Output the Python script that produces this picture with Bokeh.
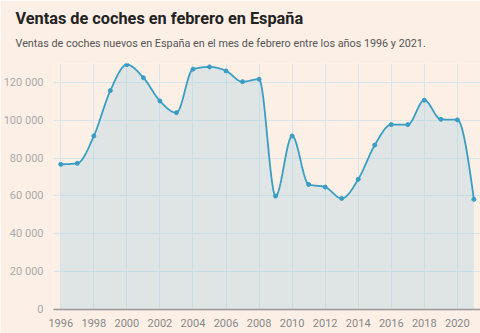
import numpy as np
from bokeh.plotting import figure
from bokeh.models import Title, FixedTicker, ColumnDataSource, Range1d
from bokeh.embed import file_html
from bokeh.resources import INLINE

years = list(range(1996, 2022))
ventas = [76700, 77250, 91700, 115700, 129400, 122500, 110200, 104000,
          127000, 128200, 126100, 120400, 121700, 59950, 91700, 66100,
          64700, 58700, 68800, 86900, 97700, 97700, 110600, 100500,
          100200, 58200]
y_ticks = [0, 20000, 40000, 60000, 80000, 100000, 120000]
y_tick_labels = ["0", "20 000", "40 000", "60 000", "80 000", "100 000", "120 000"]
x_ticks = list(range(1996, 2022, 2))

title_text = "Ventas de coches en febrero en España"
subtitle_text = "Ventas de coches nuevos en España en el mes de febrero entre los años 1996 y 2021."

BG = "#fcefe6"
LINE = "#3a9dc4"


def monotone_curve(x, y, n=24):
    x = np.asarray(x, float)
    y = np.asarray(y, float)
    h = np.diff(x)
    d = np.diff(y) / h
    m = np.zeros_like(y)
    for i in range(1, len(y) - 1):
        s0, s1 = d[i - 1], d[i]
        h0, h1 = h[i - 1], h[i]
        p = (s0 * h1 + s1 * h0) / (h0 + h1)
        m[i] = (np.sign(s0) + np.sign(s1)) * min(abs(s0), abs(s1), 0.5 * abs(p))
    m[0] = (3 * d[0] - m[1]) / 2
    m[-1] = (3 * d[-1] - m[-2]) / 2
    xs, ys = [], []
    for i in range(len(x) - 1):
        t = np.linspace(0, 1, n, endpoint=(i == len(x) - 2))
        h00 = 2 * t**3 - 3 * t**2 + 1
        h10 = t**3 - 2 * t**2 + t
        h01 = -2 * t**3 + 3 * t**2
        h11 = t**3 - t**2
        xs.append(x[i] + t * h[i])
        ys.append(h00 * y[i] + h10 * h[i] * m[i] + h01 * y[i + 1] + h11 * h[i] * m[i + 1])
    return np.concatenate(xs), np.concatenate(ys)


cx, cy = monotone_curve(years, ventas)

p = figure(width=480, height=333, output_backend="svg", toolbar_location=None,
           x_range=Range1d(1995.56, 2021.4), y_range=Range1d(0, 130000),
           min_border_left=50, min_border_right=0, min_border_bottom=24,
           min_border_top=10)
p.background_fill_color = BG
p.border_fill_color = BG
p.outline_line_color = None

bottom_gap = Title(text=" ", text_font_size="1px", standoff=4)
sub = Title(text=subtitle_text, text_font="Roboto", text_font_size="10.8px",
            text_font_style="normal", text_color="#555555", offset=-38,
            standoff=14)
main = Title(text=title_text, text_font="Roboto", text_font_size="16.3px",
             text_font_style="bold", text_color="#222222", offset=-38,
             standoff=0)
top_gap = Title(text=" ", text_font_size="1px", standoff=3)
p.add_layout(bottom_gap, "above")
p.add_layout(sub, "above")
p.add_layout(main, "above")
p.add_layout(top_gap, "above")

p.varea(x=cx, y1=0, y2=cy, fill_color="#a9d5e0", fill_alpha=0.35)
p.line(cx, cy, line_color=LINE, line_width=1.8)
src = ColumnDataSource(dict(x=years, y=ventas))
p.scatter("x", "y", source=src, size=4, color=LINE)

p.xaxis.ticker = FixedTicker(ticks=x_ticks)
p.yaxis.ticker = FixedTicker(ticks=y_ticks)
p.yaxis.major_label_overrides = {t: l for t, l in zip(y_ticks, y_tick_labels)}

for ax in (p.xaxis, p.yaxis):
    ax.major_tick_line_color = None
    ax.minor_tick_line_color = None
    ax.major_label_text_font = "Roboto"
    ax.major_label_text_font_size = "11px"
p.yaxis.axis_line_color = None
p.yaxis.major_label_text_color = "#aaaaaa"
p.yaxis.major_label_standoff = 4
p.xaxis.axis_line_color = "#999999"
p.xaxis.axis_line_width = 1.5
p.xaxis.major_label_text_color = "#888888"
p.xaxis.major_label_standoff = 3

p.xgrid.grid_line_color = "#d8e4ea"
p.ygrid.grid_line_color = "#d8e4ea"

open("out.html", "w").write(file_html(p, INLINE))
